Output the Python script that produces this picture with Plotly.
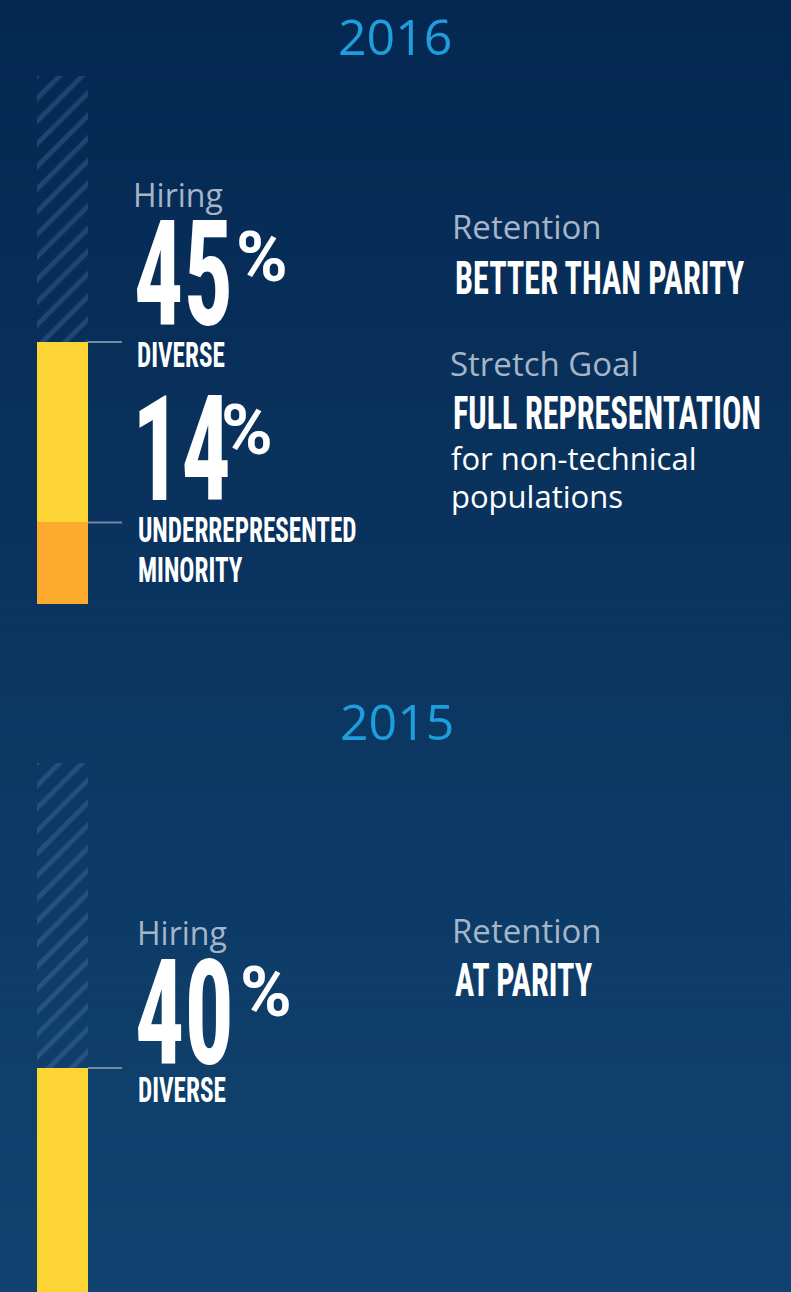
import plotly.graph_objects as go

# ---------------- data ----------------
YEARS = ["2016", "2015"]
HIRING_DIVERSE = [45, 40]          # % diverse hiring
HIRING_URM = [14, None]            # % underrepresented minority
RETENTION = ["BETTER THAN PARITY", "AT PARITY"]
STRETCH_GOAL = ["FULL REPRESENTATION", None]
STRETCH_NOTE = [["for non-technical", "populations"], None]

W, H = 791, 1292

def px(x):
    return x / W

def py(y):
    return 1 - y / H

COND = "Roboto Condensed, Roboto, sans-serif"          # labels, squeezed via CSS below
NUMF = "Roboto Condensed, Roboto, Arial, sans-serif"   # big numbers, squeezed via CSS below
PCT = "Roboto, sans-serif"
SANS = "Open Sans, Noto Sans, sans-serif"
GREY = "#a6b5c7"
BLUE = "#1e9edc"
YELLOW = "#fcd535"
ORANGE = "#fdab2f"
LEADER = "#7589a1"

fig = go.Figure()

# panel geometry (pixels)
panels = [
    dict(top=76, bottom=604, anchor=342),
    dict(top=763, bottom=1292, anchor=1068),
]
bar_x0, bar_x1 = 37, 88

layout_axes = {}
for i, p in enumerate(panels):
    n = "" if i == 0 else str(i + 1)
    val = HIRING_DIVERSE[i]
    k = (p["bottom"] - p["anchor"]) / val      # px per percentage point
    top_val = (p["bottom"] - p["top"]) / k
    layout_axes["xaxis" + n] = dict(domain=[px(bar_x0), px(bar_x1)], range=[-0.5, 0.5],
                                    visible=False, fixedrange=True, anchor="y" + n)
    layout_axes["yaxis" + n] = dict(domain=[py(p["bottom"]), py(p["top"])], range=[0, top_val],
                                    visible=False, fixedrange=True, anchor="x" + n)
    xa, ya = "x" + n, "y" + n
    # hatched track
    fig.add_trace(go.Bar(x=[0], y=[top_val], width=1, xaxis=xa, yaxis=ya,
                         marker=dict(color="rgba(0,0,0,0)", line=dict(width=0),
                                     pattern=dict(shape="/", fgcolor="rgba(110,150,200,0.24)",
                                                  bgcolor="rgba(0,0,0,0)", size=16,
                                                  solidity=0.3, fillmode="replace")),
                         hoverinfo="skip", showlegend=False))
    fig.add_trace(go.Bar(x=[0], y=[val], width=1, xaxis=xa, yaxis=ya,
                         marker=dict(color=YELLOW, line=dict(width=0)),
                         name="Diverse", showlegend=False))
    fig.add_shape(type="line", xref="paper", yref=ya, x0=px(bar_x1), x1=px(122),
                  y0=val, y1=val, line=dict(color=LEADER, width=2))
    if HIRING_URM[i] is not None:
        u = HIRING_URM[i]
        fig.add_trace(go.Bar(x=[0], y=[u], width=1, xaxis=xa, yaxis=ya,
                             marker=dict(color=ORANGE, line=dict(width=0)),
                             name="URM", showlegend=False))
        fig.add_shape(type="line", xref="paper", yref=ya, x0=px(bar_x1), x1=px(122),
                      y0=u, y1=u, line=dict(color=LEADER, width=2))

# background gradient bands
N = 80
c_top = (4, 40, 82)
c_bot = (17, 67, 112)
for j in range(N):
    t = j / (N - 1)
    c = tuple(int(round(c_top[m] + (c_bot[m] - c_top[m]) * t)) for m in range(3))
    fig.add_shape(type="rect", xref="paper", yref="paper", x0=0, x1=1,
                  y0=max(0, 1 - (j + 1) / N - 0.001), y1=1 - j / N, layer="below",
                  fillcolor="rgb(%d,%d,%d)" % c, line=dict(width=0))

ann = []

def txt(s, x, y, size, color, family, weight="normal", xanchor="left"):
    ann.append(dict(text=s, x=px(x), y=py(y), xref="paper", yref="paper",
                    xanchor=xanchor, yanchor="middle", align="left", showarrow=False,
                    font=dict(size=size, color=color, family=family, weight=weight)))

# year headings
txt(YEARS[0], 395, 36, 50, BLUE, SANS, xanchor="center")
txt(YEARS[1], 397, 721, 50, BLUE, SANS, xanchor="center")

BIG = 146
PS = 70
# 2016 left column
txt("Hiring", 131, 195, 32, GREY, SANS)
txt(str(HIRING_DIVERSE[0]), 132, 275, BIG, "white", NUMF, "bold")
txt("%", 234, 257, PS, "white", PCT, "bold")
txt("DIVERSE", 135, 355, 36, "white", COND, "bold")
txt(str(HIRING_URM[0]), 130, 450, BIG, "white", NUMF, "bold")
txt("%", 219, 430, PS, "white", PCT, "bold")
txt("UNDERREPRESENTED", 136, 530, 36, "white", COND, "bold")
txt("MINORITY", 136, 570, 36, "white", COND, "bold")

# 2016 right column
txt("Retention", 450, 226, 33, GREY, SANS)
txt(RETENTION[0], 453, 278, 46, "white", COND, "bold")
txt("Stretch Goal", 448, 364, 33, GREY, SANS)
txt(STRETCH_GOAL[0], 451, 413, 46, "white", COND, "bold")
txt(STRETCH_NOTE[0][0], 449, 458, 31, "white", SANS)
txt(STRETCH_NOTE[0][1], 449, 496, 31, "white", SANS)

# 2015
txt("Hiring", 135, 932, 32, GREY, SANS)
txt(str(HIRING_DIVERSE[1]), 133, 1014, BIG, "white", NUMF, "bold")
txt("%", 238, 992, PS, "white", PCT, "bold")
txt("DIVERSE", 136, 1090, 36, "white", COND, "bold")
txt("Retention", 450, 930, 33, GREY, SANS)
txt(RETENTION[1], 453, 980, 46, "white", COND, "bold")

fig.update_layout(
    width=W, height=H, margin=dict(l=0, r=0, t=0, b=0),
    paper_bgcolor="rgb(8,50,92)", plot_bgcolor="rgba(0,0,0,0)",
    barmode="overlay", bargap=0, showlegend=False,
    annotations=ann, **layout_axes,
)

post = """
document.documentElement.style.margin='0';
document.body.style.margin='0';
document.body.style.overflow='hidden';
var st=document.createElement('style');
st.textContent='text.annotation-text[style*="Condensed"]{font-stretch:condensed;transform-box:fill-box;transform-origin:0% 50%;transform:scaleX(0.7);}'
 + 'text.annotation-text[style*="Arial"]{transform:scaleX(0.67);}';
document.head.appendChild(st);
"""
fig.write_html("out.html", post_script=post, config={"displayModeBar": False})
